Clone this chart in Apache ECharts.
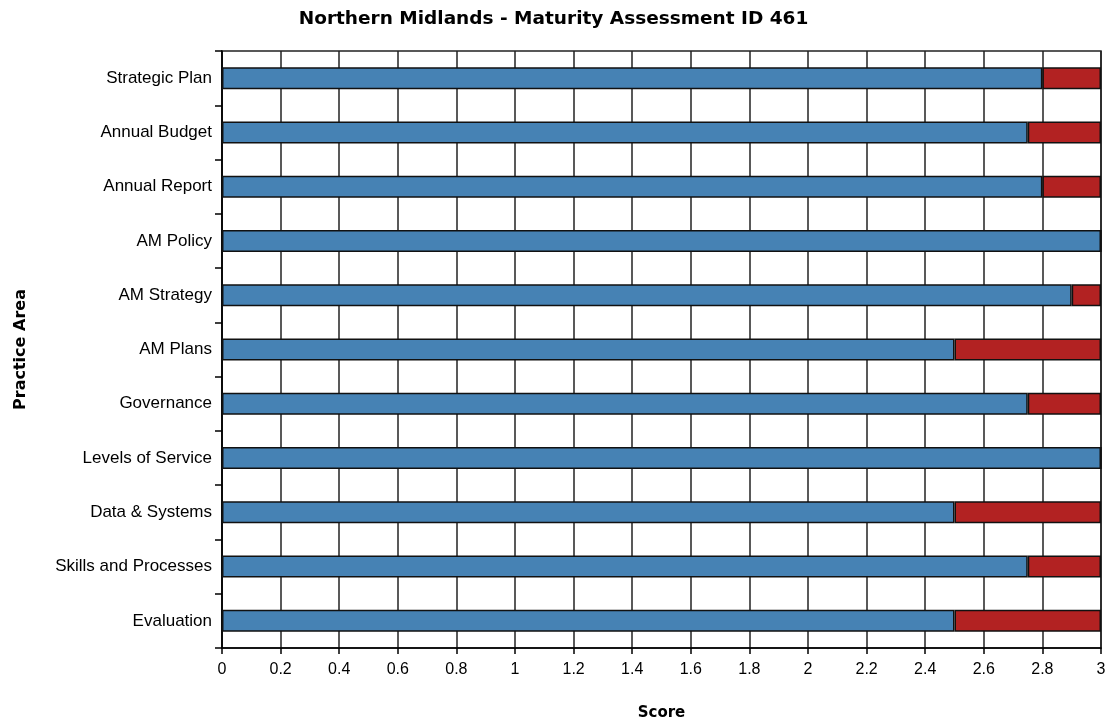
<!DOCTYPE html>
<html>
<head>
<meta charset="utf-8">
<script src="https://cdn.jsdelivr.net/npm/echarts@6/dist/echarts.min.js"></script>
<style>
  html, body { margin: 0; padding: 0; background: #fff; }
  #box1 { width: 1107px; height: 722px; }
</style>
</head>
<body>
<div id="box1"></div>
<script>
var chart = echarts.init(document.getElementById('box1'));

// practice areas, top to bottom
var areas = ['Strategic Plan', 'Annual Budget', 'Annual Report', 'AM Policy', 'AM Strategy',
  'AM Plans', 'Governance', 'Levels of Service', 'Data & Systems', 'Skills and Processes', 'Evaluation'];
// score achieved and remaining gap to 3
var scores = [2.8, 2.75, 2.8, 3, 2.9, 2.5, 2.75, 3, 2.5, 2.75, 2.5];
var gaps = [0.2, 0.25, 0.2, 0, 0.1, 0.5, 0.25, 0, 0.5, 0.25, 0.5];

var labelFont = 'Liberation Sans, Arial, sans-serif';

var option = {
  animation: false,
  title: {
    text: 'Northern Midlands - Maturity Assessment ID 461',
    left: 'center',
    top: 5,
    textStyle: { fontFamily: 'DejaVu Sans', fontWeight: 'bold', fontSize: 18.5, color: '#000' }
  },
  grid: {
    left: 222,
    right: 6,
    top: 51,
    bottom: 74,
    outerBoundsMode: 'none',
    show: true,
    borderColor: '#222',
    borderWidth: 1.5
  },
  xAxis: {
    type: 'value',
    min: 0,
    max: 3,
    interval: 0.2,
    name: 'Score',
    nameLocation: 'middle',
    nameGap: 58,
    nameTextStyle: { fontFamily: 'DejaVu Sans', fontWeight: 'bold', fontSize: 15, color: '#000' },
    axisLine: { show: true, lineStyle: { color: '#000', width: 1.5 } },
    axisTick: { show: true, length: 6, lineStyle: { color: '#000', width: 1.5 } },
    axisLabel: {
      fontFamily: labelFont, fontSize: 16, color: '#000', margin: 14,
      formatter: function (v) { return String(Math.round(v * 10) / 10); }
    },
    splitLine: { show: true, lineStyle: { color: '#222', width: 1.5 } }
  },
  yAxis: {
    type: 'category',
    data: areas,
    inverse: true,
    name: 'Practice Area',
    nameLocation: 'middle',
    nameGap: 193,
    nameRotate: 90,
    nameTextStyle: { fontFamily: 'DejaVu Sans', fontWeight: 'bold', fontSize: 16, color: '#000' },
    axisLine: { show: true, lineStyle: { color: '#000', width: 1.5 } },
    axisTick: { show: true, length: 7, lineStyle: { color: '#000', width: 1.5 } },
    axisLabel: { fontFamily: labelFont, fontSize: 17, color: '#000', margin: 10 },
    splitLine: { show: false }
  },
  series: [
    {
      name: 'Score',
      type: 'bar',
      stack: 'total',
      data: scores,
      barWidth: 22,
      itemStyle: { color: '#4682B4', borderColor: '#111', borderWidth: 1.5 }
    },
    {
      name: 'Gap',
      type: 'bar',
      stack: 'total',
      data: gaps,
      barWidth: 22,
      itemStyle: { color: '#B22222', borderColor: '#111', borderWidth: 1.5 }
    }
  ]
};

chart.setOption(option);
</script>
</body>
</html>
